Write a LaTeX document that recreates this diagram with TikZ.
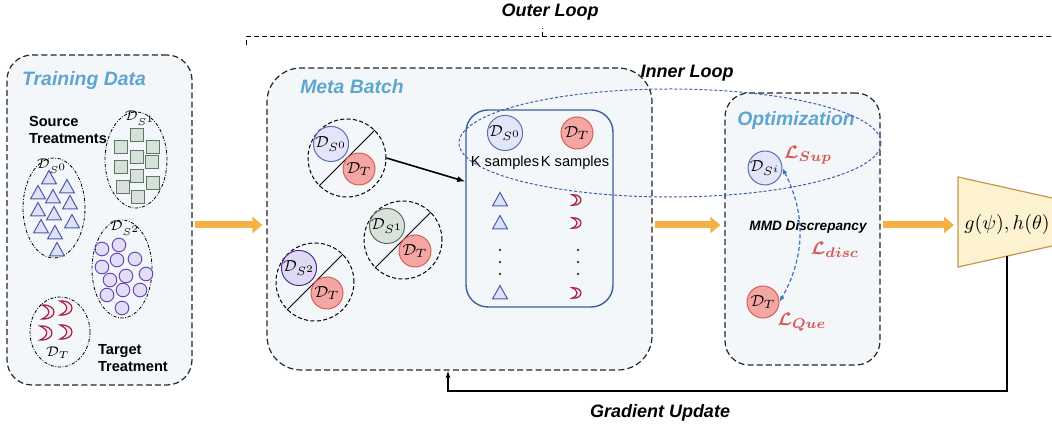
\documentclass[tikz,border=0pt]{standalone}
\usepackage{fontspec}
\usepackage{bm}
\setsansfont{Liberation Sans}
\usetikzlibrary{shapes.geometric,arrows.meta,positioning}

\definecolor{boxbg}{HTML}{F3F7FA}
\definecolor{titleblue}{HTML}{5FA6CF}
\definecolor{trifl}{HTML}{DDE2F6}
\definecolor{tridr}{HTML}{4A5CA8}
\definecolor{sqfl}{HTML}{D5E1D9}
\definecolor{sqdr}{HTML}{5B7769}
\definecolor{bubfl}{HTML}{E4DDF6}
\definecolor{bubdr}{HTML}{6A4DB8}
\definecolor{moondr}{HTML}{9E2446}
\definecolor{moonfl}{HTML}{FBE6EB}
\definecolor{sofl}{HTML}{E2E6F8}
\definecolor{sodr}{HTML}{5A6EB6}
\definecolor{s1fl}{HTML}{D6E2DA}
\definecolor{s1dr}{HTML}{57705F}
\definecolor{s2fl}{HTML}{E0D9F4}
\definecolor{s2dr}{HTML}{4D2F95}
\definecolor{tfl}{HTML}{F4A6A3}
\definecolor{tdr}{HTML}{D65D58}
\definecolor{lossred}{HTML}{D9534F}
\definecolor{flowor}{HTML}{F3B243}
\definecolor{trapfl}{HTML}{FCF2D0}
\definecolor{trapdr}{HTML}{C7964E}
\definecolor{kblue}{HTML}{3C5E9F}
\definecolor{loopblue}{HTML}{3D62AD}
\definecolor{discblue}{HTML}{3A70C8}

\tikzset{
  group/.style={draw=black!85, dash pattern=on 3pt off 1.6pt, line width=0.6pt, fill=boxbg},
  title/.style={font=\sffamily\bfseries\itshape\fontsize{9.7}{11}\selectfont, text=titleblue},
  tag/.style={font=\sffamily\bfseries\itshape\fontsize{9}{10}\selectfont},
  note/.style={font=\sffamily\bfseries\fontsize{7.3}{8.4}\selectfont, align=left},
  set/.style={ellipse, draw, dash pattern=on 1.6pt off 0.8pt on 0.4pt off 0.8pt, line width=0.4pt, inner sep=0},
  setlab/.style={font=\fontsize{7}{8}\selectfont, inner sep=0.5pt},
  dot/.style={circle, draw, line width=0.5pt, minimum size=16pt, inner sep=0, font=\fontsize{8}{9}\selectfont},
  pair/.style={circle, draw, dash pattern=on 2pt off 1.2pt, line width=0.5pt, minimum size=39pt, inner sep=0},
  flow/.style={draw=flowor, line width=3.5pt, -{Triangle[length=5pt,width=8pt]}, shorten >=2pt, shorten <=1pt},
  loss/.style={text=lossred, font=\fontsize{9.5}{10}\selectfont},
  tri/.pic={\draw[draw=tridr, fill=trifl, line width=0.5pt] (-7.5,6) -- (7.5,6) -- (0,-7.5) -- cycle;},
  sqr/.pic={\draw[draw=sqdr, fill=sqfl, line width=0.5pt] (-6.5,-6.5) rectangle (6.5,6.5);},
  bub/.pic={\draw[draw=bubdr, fill=bubfl, line width=0.5pt] (0,0) circle [radius=6.8];},
  moon/.pic={\draw[draw=moondr, fill=moonfl, line width=0.6pt]
    (-8,-7) .. controls (8,-8) and (8,8) .. (-8,7) .. controls (1,3) and (1,-3) .. (-8,-7) -- cycle;}
}

\begin{document}
\begin{tikzpicture}[x=0.5pt, y=-0.5pt]
\useasboundingbox (0,0) rectangle (1052,431);

% three stages
\node[group, rounded corners=12.5pt, minimum width=92.5pt, minimum height=165pt] (train) at (99.5,220) {};
\node[group, rounded corners=17pt, minimum width=192.5pt, minimum height=151pt] (meta) at (459.5,219) {};
\node[group, rounded corners=12pt, minimum width=77.5pt, minimum height=136pt] (opt) at (802.5,229) {};
\node[title] (traint) at (84,80) {Training Data};
\node[title] (metat) at (352,87) {Meta Batch};
\node[title] (optt) at (796,120) {Optimization};

% training data
\node[note, anchor=west] (src) at (22,130) {Source\\Treatments};
\node[note, anchor=west] (tgt) at (91,358) {Target\\Treatment};
\node[set, minimum width=31pt, minimum height=50pt] (s0) at (54,208) {};
\node[set, minimum width=31pt, minimum height=48pt] (s1) at (136,160) {};
\node[set, minimum width=30pt, minimum height=49pt] (s2) at (122,269) {};
\node[set, minimum width=30pt, minimum height=35pt] (st) at (60,332) {};
\foreach \x/\y in {49/178, 67/187, 38/193, 53/197, 70/203, 38/210, 54/214, 72/222, 41/227, 55/233, 57/250}
  \pic at (\x,\y) {tri};
\foreach \x/\y in {137/135, 121/147, 153/147, 137/157, 152/162, 121/167, 137/176, 153/183, 123/187, 138/197}
  \pic at (\x,\y) {sqr};
\foreach \x/\y in {102/249, 119/245, 117/260, 135/259, 102/267, 146/274, 110/280, 126/276, 107/295, 123/290, 140/290, 122/308}
  \pic at (\x,\y) {bub};
\foreach \x/\y in {50/312, 68/308, 48/333, 68/332}
  \pic at (\x,\y) {moon};
\node[setlab] (s0l) at (52,166) {$\mathcal{D}_{S^0}$};
\node[setlab] (s1l) at (140,118) {$\mathcal{D}_{S^1}$};
\node[setlab] (s2l) at (125,228) {$\mathcal{D}_{S^2}$};
\node[setlab] (stl) at (58,353) {$\mathcal{D}_{T}$};

% meta batch
\foreach \n/\cx/\cy/\k/\fc/\dc in {a/347/158/0/sofl/sodr, b/403/240/1/s1fl/s1dr, c/315/282/2/s2fl/s2dr} {
  \node[pair] (p\n) at (\cx,\cy) {};
  \draw[line width=0.5pt] (p\n.225) -- (p\n.45);
  \node[dot, fill=\fc, draw=\dc] (ps\n) at (\cx-16,\cy-14) {$\mathcal{D}_{S^{\k}}$};
  \node[dot, fill=tfl, draw=tdr] (pt\n) at (\cx+12,\cy+11) {$\mathcal{D}_{T}$};
}
\node[draw=kblue, line width=0.7pt, rounded corners=11pt, minimum width=73.5pt, minimum height=98.5pt] (kbox) at (539.5,208.5) {};
\node[dot, fill=sofl, draw=sodr] (ks) at (505,133) {$\mathcal{D}_{S^0}$};
\node[dot, fill=tfl, draw=tdr] (kt) at (577,133) {$\mathcal{D}_{T}$};
\node[font=\sffamily\fontsize{7.3}{8}\selectfont] (ksl) at (505,163) {K samples};
\node[font=\sffamily\fontsize{7.3}{8}\selectfont] (ktl) at (575,163) {K samples};
\foreach \y in {200, 223, 293} {
  \pic at (500,\y) {tri};
  \pic[scale=0.75] at (578,\y) {moon};
}
\foreach \y in {250, 262, 274} {
  \fill (500,\y) circle [radius=1.2];
  \fill (578,\y) circle [radius=1.2];
}
\draw[line width=0.8pt, -{Latex[length=4pt]}] (pa.east) -- (kbox.160);

% optimization
\node[dot, fill=sofl, draw=sodr] (dsi) at (765,168) {$\mathcal{D}_{S^i}$};
\node[dot, fill=tfl, draw=tdr] (dt) at (763,302) {$\mathcal{D}_{T}$};
\node[loss] (lsup) at (808,155) {$\bm{\mathcal{L}}_{\bm{Sup}}$};
\node[loss] (ldisc) at (835,250) {$\bm{\mathcal{L}}_{\bm{disc}}$};
\node[loss] (lque) at (802,322) {$\bm{\mathcal{L}}_{\bm{Que}}$};
\node[font=\sffamily\bfseries\itshape\fontsize{6.8}{8}\selectfont] (mmd) at (808,227) {MMD Discrepancy};
\draw[discblue, line width=0.6pt, dash pattern=on 2pt off 1.2pt, {Latex[length=3pt]}-{Latex[length=3pt]}]
  (dsi.east) to[bend left=28] (dt.east);

% model
\draw[fill=trapfl, draw=trapdr, line width=0.6pt] (958,177) -- (1100,208.7) -- (1100,235.3) -- (958,267) -- cycle;
\node (model) at (1007,225) {$g(\psi),h(\theta)$};
\coordinate (trapin) at (958,225);
\coordinate (gbot) at (1007,256);

% flow between stages
\draw[flow] (train.east |- 0,225) -- (meta.west |- 0,225);
\draw[flow] (meta.east |- trapin) -- (opt.west |- trapin);
\draw[flow] (opt.east |- trapin) -- (trapin);

% gradient update
\coordinate (gu) at ([xshift=-5.75pt]meta.south);
\draw[line width=0.6pt, -{Latex[length=3.5pt,width=2.5pt]}] (gbot) -- ++(0,135) -| (gu);
\node[tag] (grad) at (660,413) {Gradient Update};

% loops
\draw[loopblue, line width=0.5pt, dash pattern=on 1.5pt off 1pt] (670,143) ellipse [x radius=211, y radius=54];
\node[tag] (inner) at (687,73) {Inner Loop};
\coordinate (ol) at (246,45);
\coordinate (om) at (542,28);
\draw[line width=0.5pt, dash pattern=on 2.5pt off 1.5pt] (ol) -- (246,37) -- (1060,37);
\draw[line width=0.5pt, dash pattern=on 2.5pt off 1.5pt] (542,37) -- (om);
\node[tag] (outer) at (550,12) {Outer Loop};
\end{tikzpicture}
\end{document}
